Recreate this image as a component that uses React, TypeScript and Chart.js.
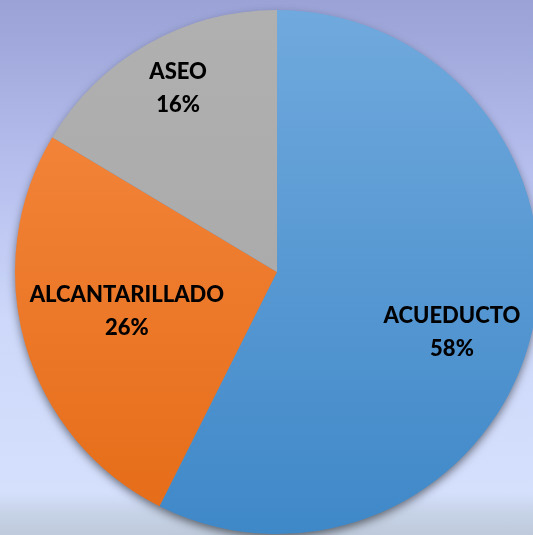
import React, { useEffect, useRef } from "react";
import { Chart, registerables } from "chart.js";

Chart.register(...registerables);

const categories = ["ACUEDUCTO", "ALCANTARILLADO", "ASEO"];
const values = [57.4, 26.2, 16.4];
const percentLabels = ["58%", "26%", "16%"];

const labelRadiusFraction = [0.706, 0.592, 0.796];
const labelAngleShift = [0.098, 0.028, 0.021];

const gradStops: [string, string][] = [
  ["#70a9dd", "#3f88c8"],
  ["#f68a42", "#e56c17"],
  ["#b0b0b0", "#a6a6a6"],
];

const shadowPlugin = {
  id: "pieShadow",
  beforeDatasetsDraw(chart: any) {
    const meta = chart.getDatasetMeta(0);
    const arc = meta.data[0];
    if (!arc) return;
    const { x, y, outerRadius } = arc.getProps(["x", "y", "outerRadius"], true);
    const ctx = chart.ctx;
    ctx.save();
    ctx.shadowColor = "rgba(0,0,0,0.55)";
    ctx.shadowBlur = 10;
    ctx.shadowOffsetY = 4;
    ctx.beginPath();
    ctx.arc(x, y, outerRadius - 1, 0, Math.PI * 2);
    ctx.fillStyle = "#4a8fcd";
    ctx.fill();
    ctx.restore();
  },
};

const labelPlugin = {
  id: "sliceLabels",
  afterDatasetsDraw(chart: any) {
    const meta = chart.getDatasetMeta(0);
    const ctx = chart.ctx;
    ctx.save();
    ctx.fillStyle = "#000000";
    ctx.font = "900 22px Lato, 'Open Sans', sans-serif";
    ctx.textAlign = "center";
    ctx.textBaseline = "middle";
    meta.data.forEach((arc: any, i: number) => {
      const { x, y, startAngle, endAngle, outerRadius } = arc.getProps(
        ["x", "y", "startAngle", "endAngle", "outerRadius"],
        true
      );
      const mid = (startAngle + endAngle) / 2 + labelAngleShift[i];
      const r = outerRadius * labelRadiusFraction[i];
      const cx = x + Math.cos(mid) * r;
      const cy = y + Math.sin(mid) * r;
      ctx.fillText(categories[i], cx, cy - 16.5);
      ctx.fillText(percentLabels[i], cx, cy + 16.5);
    });
    ctx.restore();
  },
};

export default function App() {
  const ref = useRef<HTMLCanvasElement | null>(null);
  useEffect(() => {
    document.body.style.margin = "0";
    document.body.style.overflow = "hidden";
    if (!ref.current) return;
    const chart = new Chart(ref.current, {
      type: "pie",
      data: {
        labels: categories,
        datasets: [
          {
            data: values,
            borderWidth: 0,
            backgroundColor: (c: any) => {
              const ch = c.chart;
              const area = ch.chartArea;
              if (!area) return gradStops[c.dataIndex][0];
              const g = ch.ctx.createLinearGradient(0, area.top, 0, area.bottom);
              g.addColorStop(0, gradStops[c.dataIndex][0]);
              g.addColorStop(1, gradStops[c.dataIndex][1]);
              return g;
            },
          },
        ],
      },
      options: {
        animation: false,
        responsive: false,
        layout: { padding: 10 },
        plugins: {
          legend: { display: false },
          tooltip: { enabled: false },
        },
      },
      plugins: [shadowPlugin, labelPlugin],
    });
    return () => chart.destroy();
  }, []);

  return (
    <div
      style={{
        position: "fixed",
        left: 0,
        top: 0,
        width: 533,
        height: 535,
        overflow: "hidden",
        background:
          "linear-gradient(to bottom, #9aa2d6 0%, #b4bdec 30%, #cdd8fa 60%, #d5e0fd 92%, #c6d2e6 96%, #bfcbdc 100%)",
      }}
    >
      <canvas
        ref={ref}
        width={554}
        height={544}
        style={{ position: "absolute", left: 0, top: 0, width: 554, height: 544 }}
      />
    </div>
  );
}
